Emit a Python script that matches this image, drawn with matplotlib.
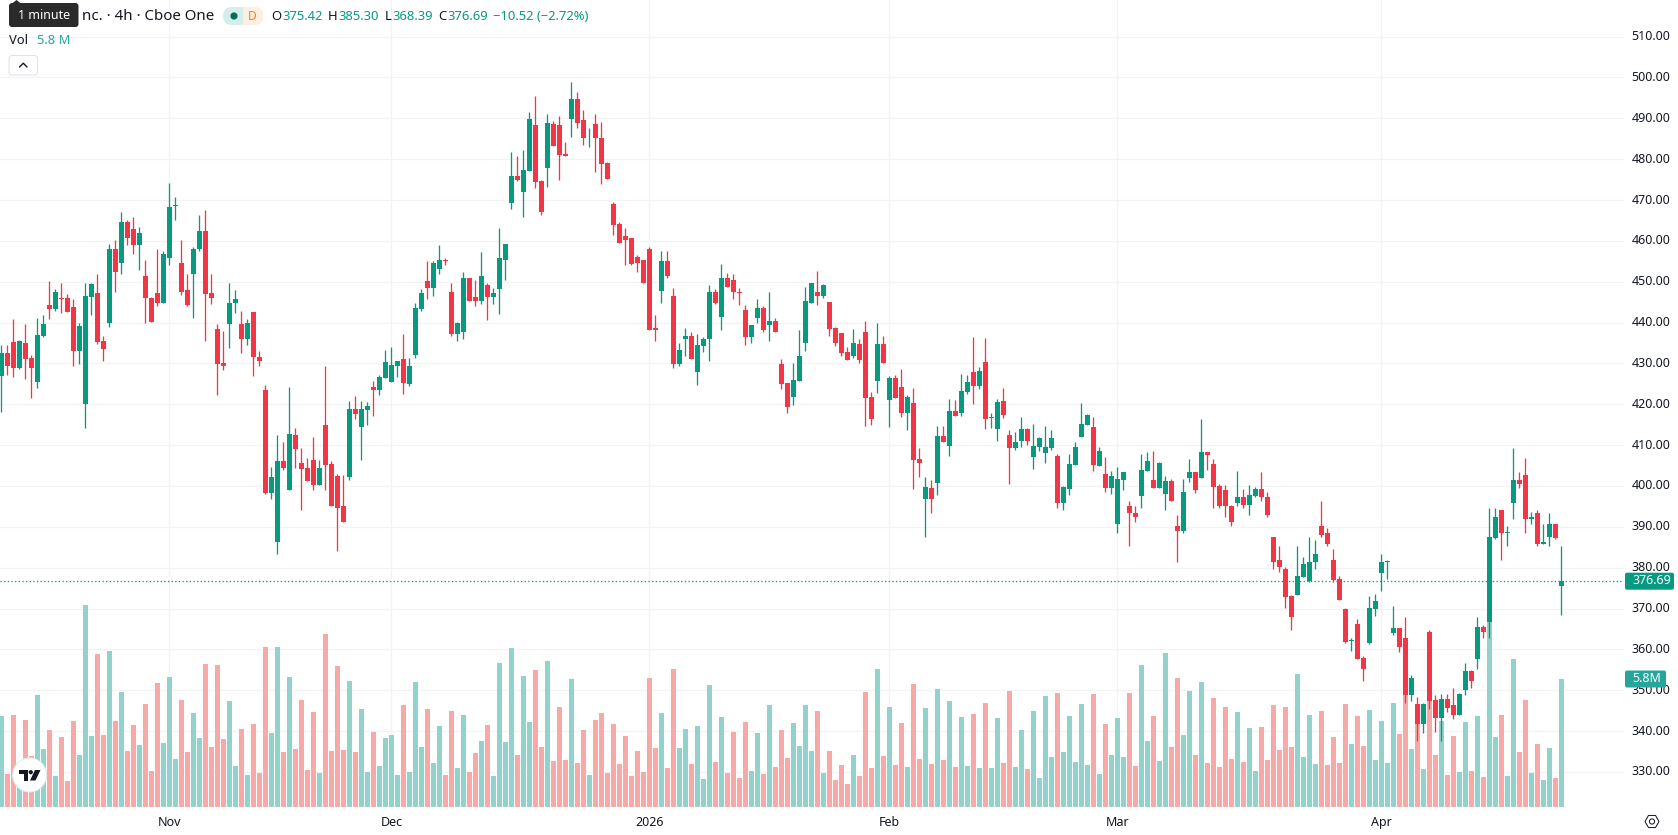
import matplotlib
matplotlib.use("Agg")
import matplotlib.pyplot as plt
from matplotlib.patches import Circle, FancyBboxPatch, Polygon, Rectangle, RegularPolygon
from matplotlib.transforms import ScaledTranslation

plt.rcParams["font.family"] = ["Noto Sans", "DejaVu Sans"]

# 4h OHLC series
opens = [426.9,432.5,435.2,428.9,435.0,431.3,425.4,436.7,444.2,443.3,445.95,445.9,443.7,433.0,420.1,446.2,447.2,435.45,439.8,458.1,
454.7,464.5,462.8,458.9,451.3,445.9,447.2,444.7,455.9,468.45,454.5,447.9,452.0,457.9,462.3,447.2,438.4,430.1,439.6,444.7,
439.6,435.9,442.5,431.5,423.5,398.4,386.4,406.2,398.9,412.5,405.7,404.5,406.4,400.3,415.0,405.4,402.5,395.0,402.3,418.9,
414.5,418.6,424.2,423.5,426.4,425.4,429.35,431.1,425.0,432.0,443.3,450.1,448.4,453.0,455.4,447.6,437.2,437.6,450.8,446.2,
445.4,449.1,446.2,448.1,455.4,469.3,475.9,472.0,477.1,488.4,474.7,477.9,488.6,488.4,481.3,489.8,494.7,489.6,485.55,488.6,
485.2,479.1,469.1,464.2,461.3,460.8,456.1,455.2,458.1,438.6,447.8,455.0,446.6,429.8,436.0,436.6,427.8,434.2,436.0,447.4,
441.3,451.0,450.3,447.6,443.0,436.4,441.0,443.5,439.5,440.5,429.8,425.1,421.7,425.6,435.1,444.9,447.6,446.4,445.0,438.6,
437.4,432.8,431.8,434.7,437.6,421.8,425.7,434.7,421.1,426.4,424.2,417.9,420.3,406.7,396.9,399.6,400.8,412.3,409.8,418.4,
417.9,423.0,427.9,424.5,430.3,416.75,414.0,420.8,412.5,409.3,411.1,414.0,407.2,409.6,408.1,409.3,407.4,395.9,399.3,405.2,
412.0,415.0,414.5,405.0,403.0,399.6,390.6,401.5,395.2,393.5,397.6,403.7,401.5,399.6,398.1,401.3,390.1,388.9,402.0,403.5,
402.0,408.4,405.4,400.1,399.1,395.2,395.9,397.2,395.4,397.6,399.3,397.4,387.4,381.8,379.8,373.0,373.3,377.6,376.7,381.3,
390.1,388.4,381.8,377.2,369.8,362.1,366.2,357.9,361.5,369.8,378.6,381.4,364.0,365.2,362.8,348.9,346.7,341.8,364.2,347.6,
343.3,347.9,346.4,344.0,350.1,354.7,357.6,365.4,366.7,387.2,394.0,388.5,395.9,401.5,402.8,391.8,393.3,385.7,387.4,390.6,375.42]

highs = [434.5,434.5,440.8,435.7,439.6,432.0,441.1,441.8,450.1,448.1,449.6,446.9,445.7,439.8,449.6,449.6,452.0,436.7,459.35,460.3,
467.15,465.2,465.9,463.3,455.2,446.2,457.9,457.6,474.2,470.8,460.3,451.8,458.4,466.4,467.6,451.8,439.6,437.9,449.8,447.9,
442.8,440.8,442.5,433.0,424.7,404.7,412.5,410.8,424.2,414.2,409.3,406.9,412.0,406.4,429.35,406.2,403.0,402.8,420.8,422.0,
420.8,420.6,425.7,427.2,433.3,434.0,430.6,437.2,431.3,444.7,448.1,455.0,455.0,459.1,455.9,449.8,440.1,452.5,450.8,450.3,
457.2,449.6,448.4,463.2,459.3,481.8,480.8,482.3,491.5,495.4,475.0,491.1,489.3,490.6,484.2,498.9,496.4,492.0,487.6,491.1,
489.1,479.3,469.6,464.5,463.2,460.8,456.6,455.2,458.6,441.8,457.6,457.4,448.4,434.9,438.6,437.8,437.1,436.4,449.3,448.1,
454.4,452.2,452.0,448.4,444.2,439.5,445.7,444.0,447.4,441.0,431.0,425.1,430.0,438.3,448.6,449.6,452.7,449.35,445.0,438.9,
437.4,434.0,438.4,435.9,440.3,423.0,439.8,436.7,426.9,427.2,428.6,422.3,424.0,409.3,402.3,401.5,414.7,414.7,421.3,421.1,
427.4,427.2,436.4,429.1,436.2,417.9,421.3,424.0,413.7,413.3,416.9,414.2,415.2,412.0,414.7,413.7,407.9,400.1,407.9,410.8,
420.3,417.6,416.9,409.6,407.2,403.7,404.7,403.5,396.4,395.0,407.9,408.4,408.6,405.9,402.5,401.8,393.0,401.8,406.7,403.5,
416.4,408.4,406.7,400.6,400.3,395.4,403.7,399.3,400.3,399.8,403.3,398.6,387.4,385.2,380.1,373.3,385.4,382.5,387.6,386.7,
396.4,389.8,384.5,377.9,370.1,362.8,367.4,358.4,373.0,373.5,383.3,381.8,370.6,365.2,367.9,353.7,348.4,346.9,364.7,348.9,
349.1,349.1,350.6,349.3,356.7,355.0,367.9,366.0,394.5,394.7,394.2,390.1,409.3,403.3,406.9,393.7,394.0,390.8,393.3,390.8,385.30]

lows = [418.1,427.2,426.7,428.6,426.2,421.5,424.0,436.4,440.8,442.8,442.3,442.5,429.35,429.8,414.2,441.8,434.7,430.6,438.9,447.4,
451.8,458.9,456.9,452.8,439.8,440.1,444.0,444.7,454.0,465.0,446.7,444.0,441.1,457.4,435.45,444.5,422.3,428.4,433.7,442.3,
432.5,434.5,426.9,429.35,398.1,396.7,383.3,404.0,398.9,404.5,394.0,401.1,398.9,400.3,398.9,395.2,384.2,391.1,401.5,416.4,
406.4,415.0,417.2,422.3,426.4,425.4,426.7,422.5,424.5,431.3,442.8,445.7,446.4,451.8,454.0,436.7,435.4,436.0,445.2,444.0,
444.5,440.6,444.5,442.0,450.3,467.9,474.7,465.9,477.1,473.0,466.4,473.2,483.2,475.0,480.8,485.4,487.6,483.5,483.0,476.9,
474.0,475.2,461.5,459.6,454.0,454.2,452.5,449.6,438.1,435.6,444.7,451.0,429.0,429.3,431.7,431.2,424.7,432.7,430.5,444.5,
438.3,448.6,445.7,444.2,434.4,435.1,439.8,437.8,435.4,437.6,423.7,417.8,419.8,425.6,433.0,444.9,444.2,446.0,436.7,434.2,
431.8,430.8,431.3,430.1,414.7,415.0,422.8,430.1,414.5,421.5,416.9,413.7,399.3,402.3,387.6,393.3,397.9,410.8,407.4,417.2,
417.2,422.5,420.1,423.7,414.0,414.2,411.1,416.7,400.6,408.9,409.6,410.1,404.2,408.6,405.7,408.9,394.5,394.2,397.9,405.2,
412.0,415.0,403.7,405.0,398.6,398.1,388.4,399.1,385.4,391.1,394.7,403.7,399.6,399.6,394.2,396.4,381.5,388.6,401.0,398.4,
402.0,404.0,394.7,394.7,392.3,390.1,395.2,394.5,393.0,397.4,396.4,392.5,379.8,378.9,370.1,364.7,373.3,377.6,376.4,379.8,
387.6,385.2,376.4,372.0,361.5,359.6,357.6,352.3,361.3,368.1,374.2,377.2,363.5,359.3,346.9,347.4,337.6,339.6,345.4,339.8,
337.6,344.7,343.0,344.0,348.9,350.6,355.2,362.8,362.8,387.0,382.0,385.4,391.8,399.6,388.4,390.6,385.4,385.7,385.4,387.0,368.39]

closes = [432.5,429.35,428.9,435.45,431.1,428.9,436.9,439.6,443.3,447.6,445.8,442.5,433.0,439.1,446.4,449.35,435.2,433.5,458.1,452.3,
464.5,460.6,458.9,462.0,445.9,440.1,444.7,456.7,468.4,468.6,447.6,444.2,458.1,462.3,446.9,445.9,429.8,429.35,444.7,445.7,
435.9,439.8,431.5,430.6,398.4,402.3,406.2,404.5,412.8,409.1,404.2,401.3,400.3,404.5,405.2,395.2,394.7,391.3,418.9,417.6,
418.9,419.6,423.5,426.7,430.3,429.6,430.6,425.2,429.35,443.5,447.2,448.4,454.7,455.4,455.0,437.2,439.8,450.8,445.2,445.4,
451.5,446.2,447.2,455.9,459.3,475.9,475.0,477.4,489.8,474.5,467.1,488.9,483.2,481.0,480.8,494.7,488.9,485.2,485.7,485.2,
478.8,475.2,464.0,459.6,460.3,454.4,454.7,449.6,438.3,438.1,455.0,451.5,429.8,433.4,436.6,431.2,434.4,436.1,447.4,444.9,
451.0,448.8,447.4,447.2,436.4,439.3,443.5,438.3,440.5,437.6,424.9,419.3,425.9,431.7,445.2,449.6,446.6,449.1,438.4,435.0,
432.5,430.8,435.0,430.8,421.5,416.4,434.7,430.1,426.4,421.5,417.9,421.8,406.4,405.7,399.8,396.7,412.3,410.8,418.4,417.2,
423.3,425.4,424.5,428.1,416.4,416.9,420.6,417.4,409.3,410.8,414.0,411.1,409.8,411.8,409.6,411.8,395.9,399.8,405.4,409.6,
415.2,417.4,405.2,408.6,399.6,402.5,401.8,403.5,393.3,392.3,404.0,406.2,399.6,405.7,401.3,396.4,388.9,398.6,403.5,399.1,
408.4,407.6,399.8,395.0,395.0,391.1,397.2,395.4,397.9,399.3,397.2,392.8,381.5,380.1,372.8,367.9,377.9,380.8,381.5,383.3,
388.1,385.9,376.9,372.0,361.8,362.3,357.6,355.2,370.1,371.8,381.3,381.6,365.2,360.6,348.9,353.0,341.8,346.7,347.4,343.3,
347.9,345.7,344.0,349.1,354.7,352.3,365.4,364.2,387.6,392.3,388.4,388.8,401.5,400.6,391.8,392.5,385.7,386.3,390.6,387.2,376.69]

# Volume, millions of shares per bar
volumes = [4.12,1.50,4.17,1.68,3.94,2.31,5.08,2.63,3.49,1.40,3.17,1.18,3.90,2.36,9.15,3.22,6.93,3.26,7.07,3.90,
5.21,2.54,3.72,2.81,4.67,1.63,5.62,2.90,5.89,2.18,4.85,2.49,4.26,3.13,6.48,2.72,6.44,3.08,4.80,1.86,
3.53,1.45,3.76,1.54,7.25,3.35,7.25,2.49,5.89,2.63,4.85,1.68,4.31,1.54,7.84,2.54,6.39,2.58,5.71,2.49,
4.44,1.59,3.40,1.86,3.13,3.26,1.45,4.62,1.59,5.66,2.72,4.44,1.99,3.67,1.45,4.35,1.77,4.17,1.59,2.45,
2.99,3.72,1.40,6.53,2.95,7.21,2.36,5.94,3.85,6.21,2.72,6.62,2.08,4.53,2.13,5.80,1.99,3.49,1.45,3.94,
4.26,1.54,3.76,1.95,3.22,1.40,2.54,1.59,5.85,2.67,4.26,1.77,6.25,2.67,3.53,1.95,3.67,1.27,5.53,2.04,
4.08,1.54,3.40,1.31,3.85,1.63,3.35,1.50,4.62,1.81,3.49,2.22,3.81,2.76,4.62,2.54,4.35,1.54,2.54,1.22,
1.90,1.04,2.36,1.40,5.21,1.77,6.25,2.31,4.53,1.90,3.81,1.81,5.57,2.18,4.49,1.95,5.35,2.13,4.80,1.81,
4.08,1.86,4.21,1.77,4.71,1.77,4.03,1.99,5.26,1.81,3.49,1.72,4.35,1.31,5.03,2.27,5.17,2.49,4.12,2.04,
4.67,1.90,5.12,1.50,3.76,2.36,4.03,2.27,5.17,1.86,6.44,2.99,4.12,2.08,6.98,2.72,5.85,3.26,5.26,2.36,
5.66,1.99,4.94,1.81,4.53,2.18,4.31,2.04,3.58,1.63,3.63,2.13,4.62,2.58,4.53,2.72,6.03,2.27,4.17,1.95,
4.35,1.90,3.17,1.99,4.67,2.85,4.12,2.76,4.40,2.13,3.90,1.99,4.71,3.31,5.08,2.63,4.62,1.72,4.80,2.36,
3.90,1.45,3.22,1.59,3.85,1.63,4.12,1.36,8.93,3.17,4.17,1.40,6.71,2.49,4.85,1.54,2.85,1.22,2.67,1.31,5.8]

price_ticks = list(range(330, 520, 10))
month_positions = [28, 65, 108, 148, 186, 230]
month_labels = ["Nov", "Dec", "2026", "Feb", "Mar", "Apr"]
last_price = 376.69
last_volume = 5.8

UP, DOWN = "#089981", "#f23645"
VOL_UP, VOL_DOWN = "#92d2cc", "#f7a9a7"
GRID = "#f2f3f5"
INK = "#131722"
W, H = 1678, 835
PX = 0.72   # one pixel in points at 100 dpi

fig = plt.figure(figsize=(W / 100, H / 100), dpi=100, facecolor="white")
ax = fig.add_axes([0, 1 - 807 / H, 1624 / W, 807 / H])

# Separate linear scale for volume sharing the same pane
ax_vol = ax.twinx()
ax_vol.set_ylim(0, 36.57)
ax_vol.axis("off")

for s in ax.spines.values():
    s.set_visible(False)

ax.set_yticks(price_ticks)
ax.set_yticklabels([f"{p:.2f}" for p in price_ticks])
ax.yaxis.tick_right()
ax.tick_params(axis="y", length=0, pad=7.5 * PX, labelsize=12.4 * PX, labelcolor=INK)
ax.set_xticks(month_positions)
ax.set_xticklabels(month_labels)
ax.tick_params(axis="x", length=0, pad=9 * PX, labelsize=12.5 * PX, labelcolor=INK)
for lab in ax.get_xticklabels():
    if lab.get_text() == "2026":
        lab.set_fontweight("bold")
ax.set_axisbelow(True)
ax.grid(True, color=GRID, lw=1.2 * PX, zorder=0)

xs = list(range(len(closes)))
rising = [c >= o for o, c in zip(opens, closes)]

ax.bar(xs, volumes, width=0.83, color=[VOL_UP if r else VOL_DOWN for r in rising],
       transform=ax_vol.transData, zorder=1, linewidth=0)

# Wicks, then bodies on top
ax.vlines(xs, lows, highs, colors=[UP if r else DOWN for r in rising],
          lw=1.3 * PX, zorder=3)
bottoms = [min(o, c) for o, c in zip(opens, closes)]
heights = [max(abs(c - o), 0.22) for o, c in zip(opens, closes)]
ax.bar(xs, heights, bottom=bottoms, width=0.83,
       color=[UP if r else DOWN for r in rising], linewidth=0, zorder=4)

# Last price line
ax.axhline(last_price, color=UP, lw=1.3 * PX, ls=(0, (1, 1.8)), zorder=2)
ax.set_xlim(-0.222, 270.445)
ax.set_ylim(321.42, 518.96)

# Nudge the price labels up so the digits sit centred on their grid lines
nudge = ScaledTranslation(0, 1.5 * PX / 72, fig.dpi_scale_trans)
for tick in ax.yaxis.get_major_ticks():
    tick.label2.set_transform(tick.label2.get_transform() + nudge)

# Interface furniture, laid out in figure pixels
ui = fig.add_axes([0, 0, 1, 1], facecolor="none")
ui.set_xlim(0, W)
ui.set_ylim(H, 0)
ui.axis("off")


def badge(x0, x1, yc, h, text, color, text_x):
    ui.add_patch(FancyBboxPatch((x0, yc - h / 2), x1 - x0, h, boxstyle="round,pad=0,rounding_size=2",
                                fc=color, ec="none", zorder=5))
    ui.text(text_x, yc - 0.5, text, color="white", fontsize=12.4 * PX, va="center", ha="left", zorder=6)


price_y = H - ax.transData.transform((0, last_price))[1]
vol_y = H - ax_vol.transData.transform((0, last_volume))[1]
badge(1625, 1674, price_y, 17, f"{last_price:.2f}", UP, 1632)
badge(1625, 1666, vol_y, 17, f"{last_volume}M", "#26a69a", 1632)

# Legend row
label_size = 13 * PX
ui.text(81.5, 17, "nc. · 4h · Cboe One", color=INK, fontsize=15 * PX, va="center", ha="left")
ui.add_patch(FancyBboxPatch((223, 7), 40, 18, boxstyle="round,pad=0,rounding_size=9",
                            fc="#d6eeea", ec="none"))
right_half = FancyBboxPatch((223, 7), 40, 18, boxstyle="round,pad=0,rounding_size=9",
                            fc="#fdf0e3", ec="none")
ui.add_patch(right_half)
right_half.set_clip_path(Rectangle((243, 0), 40, 40, transform=ui.transData))
ui.add_patch(Circle((234, 16), 3.6, fc="#086b5c", ec="none"))
ui.text(252, 16, "D", color="#f57f17", fontsize=12 * PX, va="center", ha="center", fontweight="medium")
for x, letter in [(271, "O"), (328, "H"), (384.6, "L"), (438, "C")]:
    ui.text(x, 17, letter, color=INK, fontsize=label_size, va="center", ha="left")
for x, s in [(282.4, "375.42"), (338.7, "385.30"), (392, "368.39"), (447, "376.69"),
             (493, "−10.52 (−2.72%)")]:
    ui.text(x, 17, s, color=UP, fontsize=label_size, va="center", ha="left")
ui.text(9, 41, "Vol", color=INK, fontsize=label_size, va="center", ha="left")
ui.text(37, 41, "5.8 M", color="#26a69a", fontsize=label_size, va="center", ha="left")

# Collapse button
ui.add_patch(FancyBboxPatch((9, 55.5), 28.5, 19.5, boxstyle="round,pad=0,rounding_size=3",
                            fc="white", ec="#dfe2ea", lw=1 * PX))
ui.plot([19.5, 23.3, 27], [67, 63.2, 67], color=INK, lw=1.4 * PX, solid_capstyle="round")

# Hover tooltip
ui.add_patch(Polygon([[12, 3.5], [16.5, 0], [21, 3.5]], fc="#2a2a2a", ec="none", zorder=7))
ui.add_patch(FancyBboxPatch((9, 3), 69.5, 24, boxstyle="round,pad=0,rounding_size=3",
                            fc="#2a2a2a", ec="none", zorder=7))
ui.text(43.8, 15.5, "1 minute", color="white", fontsize=12.5 * PX, va="center", ha="center", zorder=8)

# Watermark logo
ui.add_patch(Circle((29.6, 775), 17, fc="white", ec="#e6e8ee", lw=1 * PX, zorder=5))
ui.add_patch(Polygon([[19, 770], [28, 770], [28, 780.5], [23.5, 780.5], [23.5, 774], [19, 774]],
                     fc="#131722", ec="none", zorder=6))
ui.add_patch(Circle((30.8, 772.2), 2.1, fc="#131722", ec="none", zorder=6))
ui.add_patch(Polygon([[35, 770], [40.5, 770], [35.5, 780.5], [30, 780.5]],
                     fc="#131722", ec="none", zorder=6))

# Settings glyph
ui.add_patch(RegularPolygon((1652, 821.5), 6, radius=7, orientation=0.5236, fc="none", ec=INK, lw=1 * PX))
ui.add_patch(Circle((1652, 821.5), 2.6, fc="none", ec=INK, lw=1 * PX))

fig.savefig("out.png", dpi=100)
